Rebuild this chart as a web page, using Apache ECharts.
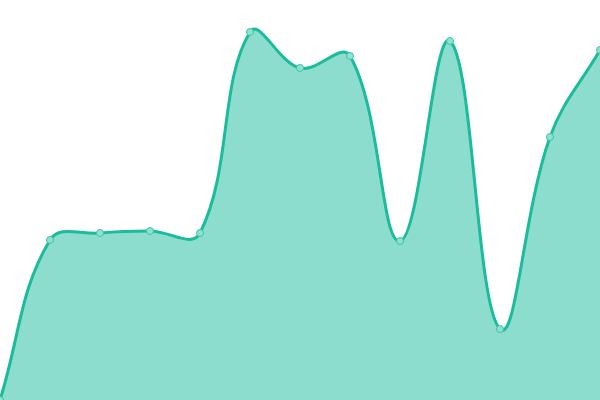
<!DOCTYPE html>
<html><head><meta charset="utf-8">
<script src="https://cdn.jsdelivr.net/npm/echarts@6/dist/echarts.min.js"></script>
<style>html,body{margin:0;padding:0;background:#fff}#c{width:600px;height:400px}</style>
</head><body><div id="c"></div>
<script>
const categories = ['1','2','3','4','5','6','7','8','9','10','11','12','13'];
const values = [0, 160, 167, 169, 167, 368, 332, 344, 159, 359, 71, 263, 350];
const TENSION = 0.4;

function buildPath(api, params) {
  const pts = values.map((v, i) => api.coord([i, v]));
  const n = pts.length;
  const cps = pts.map((p, i) => {
    const prev = pts[i - 1] || p, next = pts[i + 1] || p;
    const d01 = Math.hypot(p[0] - prev[0], p[1] - prev[1]);
    const d12 = Math.hypot(next[0] - p[0], next[1] - p[1]);
    let s01 = d01 / (d01 + d12), s12 = d12 / (d01 + d12);
    if (isNaN(s01)) s01 = 0; if (isNaN(s12)) s12 = 0;
    const fa = TENSION * s01, fb = TENSION * s12;
    return {
      prev: [p[0] - fa * (next[0] - prev[0]), p[1] - fa * (next[1] - prev[1])],
      next: [p[0] + fb * (next[0] - prev[0]), p[1] + fb * (next[1] - prev[1])]
    };
  });
  const cs = params.coordSys;
  const clamp = (q) => [Math.min(Math.max(q[0], cs.x), cs.x + cs.width), Math.min(Math.max(q[1], cs.y), cs.y + cs.height)];
  let d = 'M' + pts[0][0] + ' ' + pts[0][1];
  for (let i = 1; i < n; i++) {
    const c1 = clamp(cps[i - 1].next), c2 = clamp(cps[i].prev);
    d += ' C' + c1[0] + ' ' + c1[1] + ' ' + c2[0] + ' ' + c2[1] + ' ' + pts[i][0] + ' ' + pts[i][1];
  }
  const base = api.coord([0, 0])[1];
  const area = d + ' L' + pts[n - 1][0] + ' ' + base + ' L' + pts[0][0] + ' ' + base + ' Z';
  return {line: d, area: area};
}

const chart = echarts.init(document.getElementById('c'));
chart.setOption({
  animation: false,
  grid: {left: 0, right: 0, top: 0, bottom: 0},
  xAxis: {type: 'category', data: categories, boundaryGap: false, show: false},
  yAxis: {type: 'value', min: 0, max: 400, show: false},
  series: [{
    type: 'custom',
    data: values.map((v, i) => [i, v]),
    clip: false,
    renderItem: function (params, api) {
      if (params.dataIndex !== 0) return null;
      const p = buildPath(api, params);
      return {
        type: 'group',
        children: [
          {type: 'path', shape: {pathData: p.area}, style: {fill: 'rgba(26,188,156,0.5)', stroke: null}},
          {type: 'path', shape: {pathData: p.line}, style: {fill: null, stroke: '#1abc9c', lineWidth: 3}}
        ]
      };
    },
    z: 2
  }, {
    type: 'line',
    data: values,
    symbol: 'circle',
    symbolSize: 7,
    lineStyle: {opacity: 0},
    itemStyle: {color: '#8ee0cf', borderColor: '#3cc4a6', borderWidth: 1},
    z: 3
  }]
});
</script></body></html>
